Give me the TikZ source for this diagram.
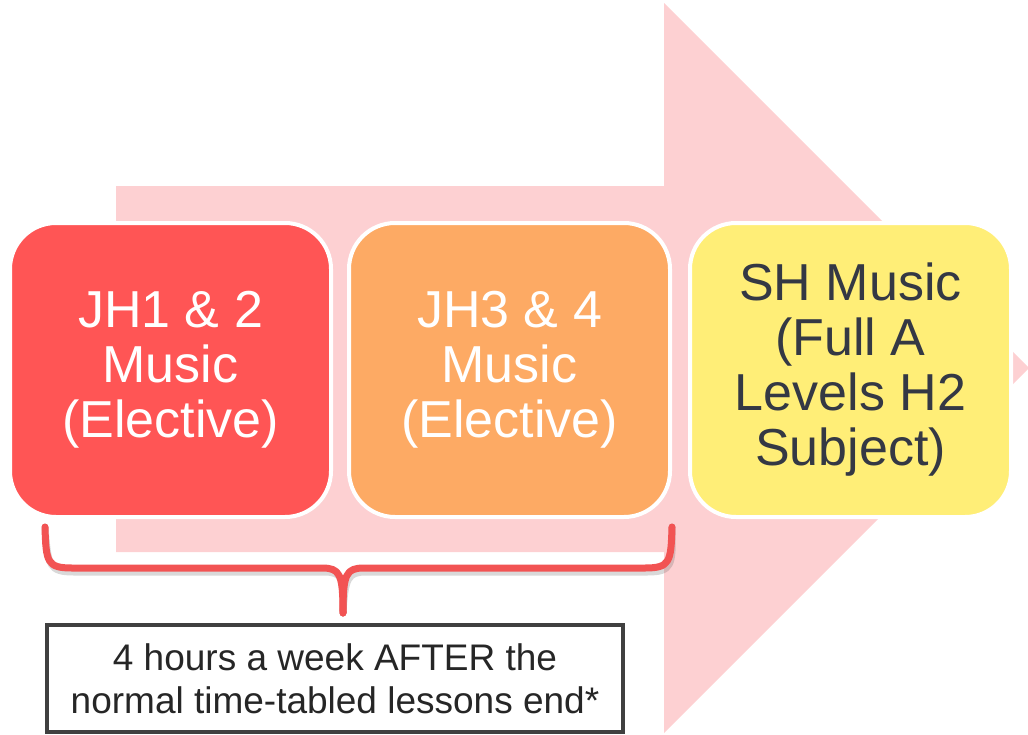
\documentclass[tikz,border=0pt]{standalone}
\usepackage{fontspec}
\setmainfont{Liberation Sans}
\definecolor{arrowpink}{HTML}{FDD0D2}
\definecolor{jhred}{HTML}{FF5555}
\definecolor{jhorange}{HTML}{FDAA64}
\definecolor{shyellow}{HTML}{FFEE77}
\definecolor{shtext}{HTML}{343844}
\definecolor{bracered}{HTML}{F25353}
\definecolor{notegray}{HTML}{404040}

\begin{document}
\begin{tikzpicture}[x=0.5pt,y=-0.5pt,
    stage/.style={draw=white, line width=2pt, rounded corners=23pt,
      minimum width=160.5pt, minimum height=147pt, inner sep=0pt, align=center,
      font=\fontsize{26}{27.5}\selectfont},
    bracket/.style={draw=bracered, line width=3.5pt, line cap=round, line join=round}]
      \useasboundingbox (0,0) rectangle (1028,734);
      \fill[arrowpink] (116,186) -- (664,186) -- (664,3) -- (1029,368)
        -- (664,733) -- (664,552) -- (116,552) -- cycle;
      \node[stage, fill=jhred, text=white] (jh12) at (170.5,370)
        {JH1 \& 2\\Music\\(Elective)};
      \node[stage, fill=jhorange, text=white] (jh34) at (509.5,370)
        {JH3 \& 4\\Music\\(Elective)};
      \node[stage, fill=shyellow, text=shtext] (sh) at (850.5,370)
        {SH Music\\(Full A\\Levels H2\\Subject)};
      \node[draw=notegray, line width=2pt, fill=white, minimum width=288pt,
        minimum height=53.5pt, inner sep=0pt, align=center, text=black!85,
        font=\fontsize{18.5}{21.5}\selectfont] (note) at (335,678.5)
        {4 hours a week AFTER the\\normal time-tabled lessons end*};
      \coordinate (brl) at (45,527);
      \coordinate (brr) at (672,527);
      \coordinate (brtip) at (343,613);
      \begin{scope}[shift={(2,4)}, opacity=0.25]
        \draw[bracket, draw=black!60] (brl) .. controls (46,562) and (47,568) .. (72,568) -- (322,568)
          .. controls (340,568) and (343,574) .. (brtip);
        \draw[bracket, draw=black!60] (brr) .. controls (671,562) and (670,568) .. (645,568) -- (364,568)
          .. controls (346,568) and (343,574) .. (brtip);
      \end{scope}
      \draw[bracket] (brl) .. controls (46,562) and (47,568) .. (72,568) -- (322,568)
        .. controls (340,568) and (343,574) .. (brtip);
      \draw[bracket] (brr) .. controls (671,562) and (670,568) .. (645,568) -- (364,568)
        .. controls (346,568) and (343,574) .. (brtip);
    \end{tikzpicture}
\end{document}
